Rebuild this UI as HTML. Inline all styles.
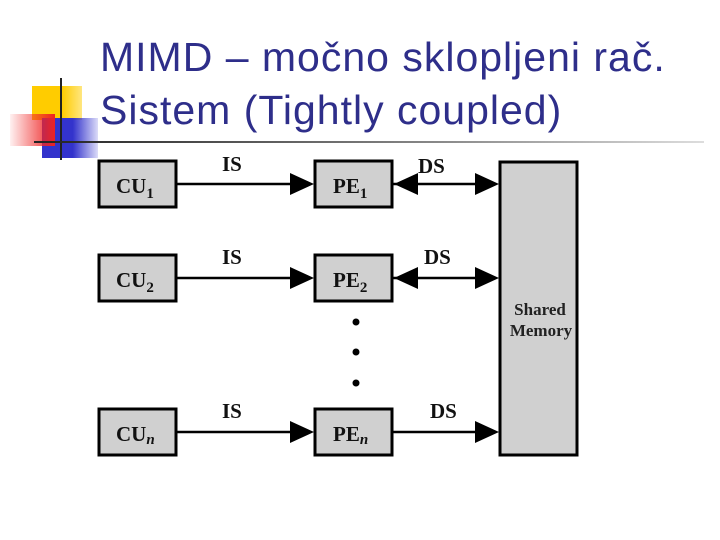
<!DOCTYPE html>
<html><head><style>
body{margin:0;width:720px;height:540px;background:#fff;position:relative;overflow:hidden;font-family:"Liberation Sans",sans-serif}
.t{position:absolute;left:100px;color:#2e2e8a;font-size:41px;letter-spacing:1px;white-space:nowrap}
</style></head><body>
<div style="position:absolute;left:32px;top:86px;width:50px;height:34px;background:linear-gradient(90deg,#ffcc00 60%,#ffe680)"></div>
<div style="position:absolute;left:42px;top:118px;width:56px;height:40px;background:linear-gradient(90deg,#3333cc 55%,rgba(80,80,220,0.2))"></div>
<div style="position:absolute;left:10px;top:114px;width:45px;height:32px;background:linear-gradient(90deg,rgba(255,120,120,0.1),#ee2222)"></div>
<div style="position:absolute;left:60px;top:78px;width:2px;height:82px;background:#222"></div>
<div style="position:absolute;left:34px;top:141px;width:670px;height:2px;background:linear-gradient(90deg,#222,#888 60%,#ddd)"></div>
<div class="t" style="top:34px">MIMD – močno sklopljeni rač.</div>
<div class="t" style="top:87px">Sistem (Tightly coupled)</div>
<svg width="720" height="540" style="position:absolute;left:0;top:0" font-family="Liberation Serif,serif" font-weight="bold">
<g fill="#d0d0d0" stroke="#000" stroke-width="3">
<rect x="99" y="161" width="77" height="46"/><rect x="315" y="161" width="77" height="46"/>
<rect x="99" y="255" width="77" height="46"/><rect x="315" y="255" width="77" height="46"/>
<rect x="99" y="409" width="77" height="46"/><rect x="315" y="409" width="77" height="46"/>
<rect x="500" y="162" width="77" height="293"/>
</g>
<g stroke="#000" stroke-width="2.5">
<line x1="177" y1="184" x2="295" y2="184"/><line x1="393" y1="184" x2="480" y2="184"/>
<line x1="177" y1="278" x2="295" y2="278"/><line x1="393" y1="278" x2="480" y2="278"/>
<line x1="177" y1="432" x2="295" y2="432"/><line x1="393" y1="432" x2="480" y2="432"/>
</g>
<g fill="#000">
<polygon points="290,173 314,184 290,195"/><polygon points="475,173 499,184 475,195"/><polygon points="418,173 394,184 418,195"/>
<polygon points="290,267 314,278 290,289"/><polygon points="475,267 499,278 475,289"/><polygon points="418,267 394,278 418,289"/>
<polygon points="290,421 314,432 290,443"/><polygon points="475,421 499,432 475,443"/>
<circle cx="356" cy="322" r="3.5"/><circle cx="356" cy="352" r="3.5"/><circle cx="356" cy="383" r="3.5"/>
</g>
<g font-size="21" fill="#111">
<text x="222" y="171">IS</text><text x="222" y="264">IS</text><text x="222" y="418">IS</text>
<text x="418" y="173">DS</text><text x="424" y="264">DS</text><text x="430" y="418">DS</text>
<text x="116" y="193">CU<tspan font-size="15" dy="5">1</tspan></text>
<text x="333" y="193">PE<tspan font-size="15" dy="5">1</tspan></text>
<text x="116" y="287">CU<tspan font-size="15" dy="5">2</tspan></text>
<text x="333" y="287">PE<tspan font-size="15" dy="5">2</tspan></text>
<text x="116" y="441">CU<tspan font-size="15" dy="3" font-style="italic">n</tspan></text>
<text x="333" y="441">PE<tspan font-size="15" dy="3" font-style="italic">n</tspan></text>
</g>
<g font-size="17" fill="#222" text-anchor="middle">
<text x="540" y="315">Shared</text><text x="541" y="336">Memory</text>
</g>
</svg>
</body></html>
